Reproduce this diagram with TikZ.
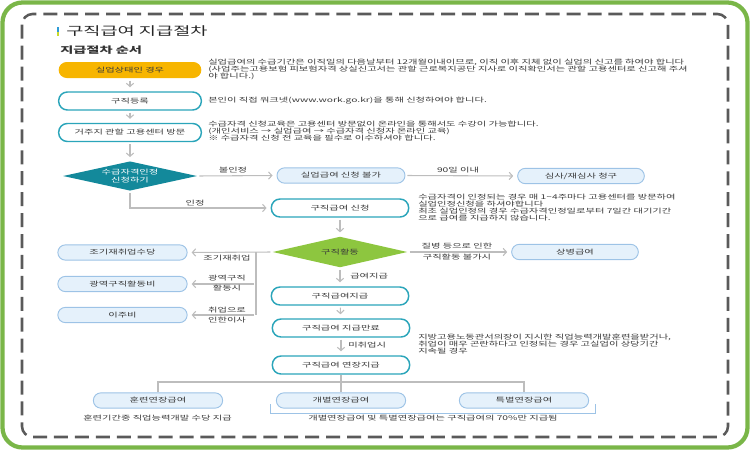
\documentclass[tikz,border=0pt]{standalone}
\usepackage{fontspec}
\setmainfont{Noto Sans CJK KR}[FakeStretch=1.57]
\usetikzlibrary{arrows.meta,shapes.geometric}
\definecolor{txt}{HTML}{3A3A3A}
\definecolor{grn}{HTML}{7AB648}
\definecolor{dsh}{HTML}{5A5A5A}
\definecolor{ylw}{HTML}{F7B500}
\definecolor{tealb}{HTML}{2BA5BA}
\definecolor{lbfill}{HTML}{E5F1FB}
\definecolor{lbdraw}{HTML}{9DC3E6}
\definecolor{dteal}{HTML}{13899B}
\definecolor{lgrn}{HTML}{8DC63F}
\definecolor{arr}{HTML}{BDBDBD}
\definecolor{mblue}{HTML}{2E9BD6}
\definecolor{mylw}{HTML}{C8DA2B}
\tikzset{
 base/.style={font=\fontsize{4.9pt}{5.3pt}\selectfont, text=txt, inner sep=0pt},
 pill/.style={base, rounded corners=6.5pt, minimum height=13.5pt, minimum width=103pt, line width=1.1pt, draw=tealb, fill=white},
 ypill/.style={pill, draw=none, fill=ylw, minimum height=12pt, rounded corners=6pt},
 bpill/.style={pill, draw=lbdraw, fill=lbfill, line width=0.7pt, minimum height=11.5pt, rounded corners=5.75pt},
 dia/.style={base, shape=diamond, aspect=4.5, minimum width=100.5pt, minimum height=22pt, align=center},
 conn/.style={draw=arr, line width=0.8pt, -{Straight Barb[length=2.5pt,width=5.5pt]}, shorten >=3pt, shorten <=1.5pt},
 plain/.style={draw=arr, line width=0.8pt},
 lab/.style={base},
 body/.style={base, align=left, anchor=north west},
}
\begin{document}
\begin{tikzpicture}[x=0.75pt,y=-0.75pt]
\useasboundingbox (0,0) rectangle (750,450);
% frames
\draw[grn, line width=3.2pt, rounded corners=15pt] (2.5,2.5) rectangle (747.5,447.5);
\draw[dsh, line width=1.9pt, dash pattern=on 10.5pt off 5.2pt, rounded corners=8pt] (22,14) rectangle (728,437);
% title
\fill[mblue] (56.5,27) rectangle (59,31.5);
\fill[mylw] (56.5,31.5) rectangle (59,36);
\node[anchor=west, inner sep=0pt, text=black!85, font=\fontsize{8.9pt}{10pt}\selectfont] (title) at (66,31) {구직급여 지급절차};
\node[anchor=west, inner sep=0pt, text=black!80, font=\fontsize{6.8pt}{8pt}\selectfont\bfseries] (sub) at (60,50) {지급절차 순서};
% main column
\node[ypill, minimum width=107pt] (s1) at (130,70) {실업상태인 경우};
\node[pill, minimum width=107pt] (s2) at (130,101) {구직등록};
\node[pill, minimum width=107pt] (s3) at (130,132.5) {거주지 관할 고용센터 방문};
\node[dia, fill=dteal, text=white] (d1) at (130,176) {수급자격인정\\[0.5pt]신청하기};
\node[bpill, minimum width=96pt] (n1) at (341,175.5) {실업급여 신청 불가};
\node[bpill, minimum width=95pt] (n2) at (581,176) {심사/재심사 청구};
\node[pill] (c1) at (340,208) {구직급여 신청};
\node[dia, fill=lgrn, minimum width=101pt, minimum height=23pt] (d2) at (340,252) {구직활동};
\node[bpill, minimum width=95pt] (n3) at (575,252) {상병급여};
\node[bpill, minimum width=97pt] (l1) at (122.5,252.5) {조기재취업수당};
\node[bpill, minimum width=97pt] (l2) at (122.5,284) {광역구직활동비};
\node[bpill, minimum width=97pt] (l3) at (122.5,315) {이주비};
\node[pill] (c2) at (340,296) {구직급여지급};
\node[pill] (c3) at (341,328) {구직급여 지급만료};
\node[pill] (c4) at (341,365) {구직급여 연장지급};
\node[bpill, minimum width=97pt] (b1) at (158,400.5) {훈련연장급여};
\node[bpill, minimum width=97pt] (b2) at (341,400.5) {개별연장급여};
\node[bpill, minimum width=97pt] (b3) at (524,400.5) {특별연장급여};
% body texts
\node[body] (t1) at (208,59) {실업급여의 수급기간은 이직일의 다음날부터 12개월이내이므로, 이직 이후 지체 없이 실업의 신고를 하여야 합니다\\(사업주는고용보험 피보험자격 상실신고서는 관할 근로복지공단 지사로 이직확인서는 관할 고용센터로 신고해 주셔\\야 합니다.)};
\node[base, anchor=west] (t2) at (208,101) {본인이 직접 워크넷(www.work.go.kr)을 통해 신청하여야 합니다.};
\node[body] (t3) at (208,121) {수급자격 신청교육은 고용센터 방문없이 온라인을 통해서도 수강이 가능합니다.\\(개인서비스 → 실업급여 → 수급자격 신청자 온라인 교육)\\※ 수급자격 신청 전 교육을 필수로 이수하셔야 합니다.};
\node[body] (t4) at (418,194) {수급자격이 인정되는 경우 매 1\textasciitilde 4주마다 고용센터를 방문하여\\실업인정신청을 하셔야합니다\\최초 실업인정의 경우 수급자격인정일로부터 7일간 대기기간\\으로 급여를 지급하지 않습니다.};
\node[body] (t5) at (418,334) {지방고용노동관서의장이 지시한 직업능력개발훈련을받거나,\\취업이 매우 곤란하다고 인정되는 경우 고실업이 상당기간\\지속될 경우};
\node[base] (t6) at (157.5,418) {훈련기간중 직업능력개발 수당 지급};
\node[base] (t7) at (433,418) {개별연장급여 및 특별연장급여는 구직급여의 70\%만 지급됨};
% connectors
\draw[conn] (s1) -- (s2);
\draw[conn] (s2) -- (s3);
\draw[conn] (s3) -- (d1);
\draw[conn] (d1.east) -- (n1.west);
\node[lab] (lb1) at (233,170) {불인정};
\draw[conn] (n1.east) -- (n2.west);
\node[lab] (lb2) at (458,170.5) {90일 이내};
\draw[conn] (d1.south) |- (c1.west);
\node[lab] (lb3) at (195,203) {인정};
\draw[conn] (c1) -- (d2);
\draw[conn] (d2.west) -- (l1.east);
\coordinate (br) at (256,252);
\draw[plain] (br) -- (br |- l3.east);
\draw[conn] (br |- l2.east) -- (l2.east);
\draw[conn] (br |- l3.east) -- (l3.east);
\node[lab] (lb4) at (227,258) {조기재취업};
\node[lab, align=center] (lb5) at (227,283) {광역구직\\[2pt]활동시};
\node[lab, align=center] (lb6) at (227,315) {취업으로\\[2pt]인한이사};
\draw[conn] (d2.east) -- (n3.west);
\node[lab] (lb7) at (457,246) {질병 등으로 인한};
\node[lab] (lb8) at (457,257.5) {구직활동 불가시};
\draw[conn] (d2.south) -- (c2);
\node[lab, anchor=west] (lb9) at (350,276) {급여지급};
\draw[conn] (c2) -- (c3);
\draw[conn] (c3) -- (c4);
\node[lab, anchor=west] (lb10) at (348,345.5) {미취업시};
\coordinate (j) at (341,382);
\draw[plain] (c4.south) -- (b2.north);
\draw[plain] (b1.north) |- (j) -| (b3.north);
\draw[lbdraw, line width=0.6pt] (270,404) -- (270,413) -- (595,413) -- (595,404);
\end{tikzpicture}
\end{document}
